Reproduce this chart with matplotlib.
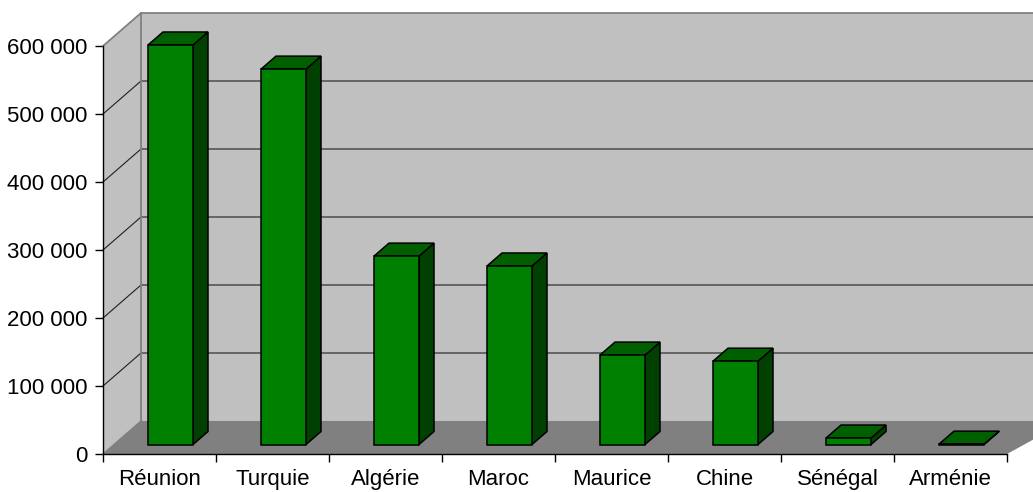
import matplotlib
matplotlib.use('Agg')
import matplotlib.pyplot as plt
from matplotlib.patches import Polygon

plt.rcParams['font.family'] = ['Liberation Sans', 'DejaVu Sans']

pays = ['Réunion', 'Turquie', 'Algérie', 'Maroc', 'Maurice', 'Chine', 'Sénégal', 'Arménie']
valeurs = [587500, 552000, 277000, 262500, 131500, 122500, 9500, 500]
graduations = [0, 100000, 200000, 300000, 400000, 500000, 600000]
etiquettes = ['0', '100 000', '200 000', '300 000', '400 000', '500 000', '600 000']

W, H = 1033, 492
fig = plt.figure(figsize=(W / 100, H / 100), dpi=100)
ax = fig.add_axes([103 / W, (H - 454) / H, 904 / W, 408 / H])
ax.set_xlim(0, 8)
ax.set_ylim(0, 600000)

# profondeur de la fausse 3D, en unites des axes
prof_x = 38 / 113
prof_y = 33 / 68 * 100000
barre_x = 15 / 113
barre_y = 13 / 68 * 100000
base = 9.5 / 68 * 100000
marge = 45 / 113
largeur = 45 / 113
fin = 8 + 60 / 113


def poly(points, couleur, bord='none', lw=0, z=1):
    ax.add_patch(Polygon(points, closed=True, facecolor=couleur, edgecolor=bord,
                         linewidth=lw, clip_on=False, zorder=z, joinstyle='miter'))


# murs et sol
poly([(prof_x, prof_y), (fin, prof_y), (fin, 600000 + prof_y), (prof_x, 600000 + prof_y)], '#c0c0c0')
poly([(0, 0), (prof_x, prof_y), (prof_x, 600000 + prof_y), (0, 600000)], '#c0c0c0')
poly([(0, 0), (8, 0), (fin, prof_y), (prof_x, prof_y)], '#808080')

# quadrillage sur le fond et le cote
for g in graduations[1:-1]:
    ax.plot([0, prof_x, fin], [g, g + prof_y, g + prof_y], color='#202020', lw=0.8,
            clip_on=False, zorder=2)

# contour gris des murs
ax.plot([0, prof_x, fin], [600000, 600000 + prof_y, 600000 + prof_y], color='#808080',
        lw=1.3, clip_on=False, zorder=2)
ax.plot([prof_x, prof_x], [prof_y, 600000 + prof_y], color='#808080', lw=1.3,
        clip_on=False, zorder=2)
ax.plot([0, prof_x], [0, prof_y], color='#808080', lw=1, clip_on=False, zorder=2)

# barres : face, dessus, cote
for i, v in enumerate(valeurs):
    x0 = i + marge
    x1 = x0 + largeur
    y0 = base
    y1 = base + v
    z = 3
    poly([(x1, y0), (x1 + barre_x, y0 + barre_y), (x1 + barre_x, y1 + barre_y), (x1, y1)],
         '#004000', 'black', 1.1, z)
    poly([(x0, y1), (x1, y1), (x1 + barre_x, y1 + barre_y), (x0 + barre_x, y1 + barre_y)],
         '#006000', 'black', 1.1, z)
    poly([(x0, y0), (x1, y0), (x1, y1), (x0, y1)], '#008000', 'black', 1.1, z)

for s in ['top', 'right']:
    ax.spines[s].set_visible(False)
for s in ['left', 'bottom']:
    ax.spines[s].set_linewidth(1.0)
    ax.spines[s].set_zorder(4)

ax.set_yticks(graduations)
ax.set_yticklabels(etiquettes)
ax.set_xticks(range(9))
ax.set_xticklabels([])
ax.set_xticks([i + 0.5 for i in range(8)], minor=True)
ax.set_xticklabels(pays, minor=True)
ax.tick_params(axis='y', length=6, width=1, pad=5, labelsize=16)
ax.tick_params(axis='x', which='major', length=6, width=1)
ax.tick_params(axis='x', which='minor', length=0, pad=11, labelsize=16)
ax.patch.set_visible(False)

fig.savefig('out.png', dpi=100)
